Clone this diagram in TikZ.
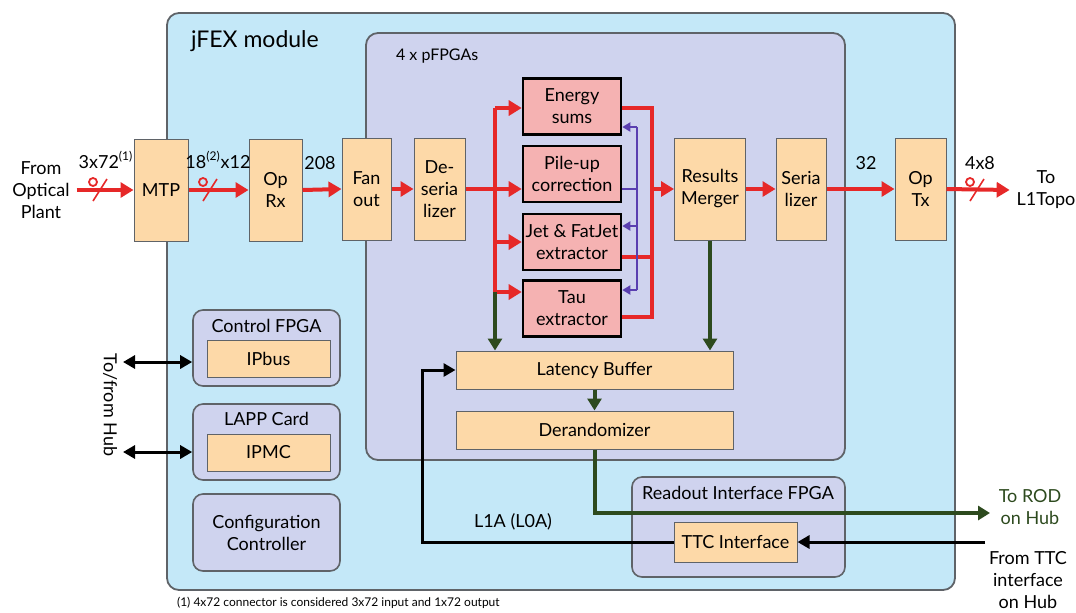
\documentclass[tikz,border=0pt]{standalone}
\usepackage{fontspec}
\setmainfont{Lato}
\usetikzlibrary{arrows.meta,positioning}
\definecolor{modblue}{HTML}{C4E8F8}
\definecolor{fpgalav}{HTML}{CFD3EE}
\definecolor{boxpeach}{HTML}{FDD9A8}
\definecolor{algopink}{HTML}{F5B2B2}
\definecolor{linkred}{HTML}{E62828}
\definecolor{rodgreen}{HTML}{2D4A1E}
\definecolor{fbpurple}{HTML}{5A3FB0}
\definecolor{edgegray}{HTML}{5F6368}

% optical fibre mark, slash centred at (#1,#2)
\newcommand{\fibre}[2]{%
  \draw[linkred, line width=0.9pt] (#1-7,#2-8) circle (2pt);
  \draw[linkred, line width=0.8pt] (#1-7,#2+11) -- (#1+7,#2-11);}

\begin{document}
\begin{tikzpicture}[
    x=0.5pt, y=-0.5pt,
    every node/.style={font=\fontsize{9}{11}\selectfont},
    blk/.style={fill=boxpeach, draw=edgegray, line width=0.5pt,
                inner sep=1pt, align=center},
    tallblk/.style={blk, minimum height=51pt},
    algo/.style={fill=algopink, draw=black, line width=1.3pt,
                 inner sep=1pt, align=center, minimum width=49pt, minimum height=28pt},
    grp/.style={fill=fpgalav, draw=edgegray, line width=0.8pt,
                rounded corners=5pt, align=center},
    flow/.style={linkred, line width=2pt, -{Triangle[length=6.5pt,width=7.5pt]}},
    redline/.style={linkred, line width=1.6pt},
    fbline/.style={fbpurple, line width=1.2pt},
    fb/.style={fbline, -{Triangle[length=4pt,width=4.5pt]}},
    rod/.style={rodgreen, line width=2pt, -{Triangle[length=6pt,width=7pt]}},
    sig/.style={black, line width=1.5pt, -{Triangle[length=6pt,width=6.5pt]}},
]
\useasboundingbox (0,0) rectangle (1076,612);

% containers
\draw[fill=modblue, draw=edgegray, line width=0.9pt, rounded corners=6pt]
  (167,13) rectangle (955,590);
\node[font=\fontsize{11.5}{13}\selectfont, anchor=base west] (modlbl) at (184,47) {jFEX module};
\draw[fill=fpgalav, draw=edgegray, line width=0.9pt, rounded corners=6pt]
  (366,33) rectangle (845,460);
\node[font=\fontsize{8}{10}\selectfont, anchor=base west] (fpgalbl) at (389,60) {4 x pFPGAs};

% left column: control, LAPP, configuration
\node[grp, minimum width=73.5pt, minimum height=38pt] (ctrlfpga) at (266.5,348) {};
\node (ctrllbl) at (266.5,326) {Control FPGA};
\node[blk, minimum width=61.5pt, minimum height=18.5pt] (ipbus) at (268.5,358.5) {IPbus};
\node[grp, minimum width=73.5pt, minimum height=38pt] (lapp) at (266.5,442) {};
\node (lapplbl) at (266.5,419) {LAPP Card};
\node[blk, minimum width=61.5pt, minimum height=18.5pt] (ipmc) at (268.5,452.5) {IPMC};
\node[grp, minimum width=73.5pt, minimum height=38.5pt] (config) at (266.5,532.5)
  {Configuration\\Controller};

% readout FPGA
\node[grp, minimum width=106.5pt, minimum height=50pt] (readout) at (738.5,527) {};
\node (readlbl) at (738,493) {Readout Interface FPGA};
\node[blk, minimum width=61.5pt, minimum height=20pt] (ttc) at (735.5,542) {TTC Interface};

% main chain
\node[align=center] (optplant) at (41,190) {From\\Optical\\Plant};
\node[tallblk, minimum width=27pt] (mtp) at (161,190) {MTP};
\node[tallblk, minimum width=26.5pt] (oprx) at (275.5,190) {Op\\Rx};
\node[tallblk, minimum width=24.5pt] (fanout) at (366.5,189) {Fan\\out};
\node[tallblk, minimum width=25.5pt] (deser) at (439.5,189) {De-\\seria\\lizer};
\node[algo] (esum) at (572,106.5) {Energy\\sums};
\node[algo] (pileup) at (572,174) {Pile-up\\correction};
\node[algo] (jet) at (572,242) {Jet \& FatJet\\extractor};
\node[algo] (tau) at (572,308.5) {Tau\\extractor};
\node[tallblk, minimum width=35.5pt] (merger) at (710,189) {Results\\Merger};
\node[tallblk, minimum width=25pt] (ser) at (801,189) {Seria\\lizer};
\node[tallblk, minimum width=25.5pt] (optx) at (920.5,189) {Op\\Tx};
\node[align=center] (l1topo) at (1046,190) {To\\L1Topo};
\node[blk, minimum width=138.5pt, minimum height=19pt] (latbuf) at (594.5,370) {Latency Buffer};
\node[blk, minimum width=138.5pt, minimum height=19pt] (derand) at (594.5,430) {Derandomizer};

% link labels
\node (inlbl) at (106,160) {3x72\textsuperscript{(1)}};
\node (rxlbl) at (218,160) {18\textsuperscript{(2)}x12};
\node (fanlbl) at (320,163) {208};
\node (serlbl) at (866,163) {32};
\node (outlbl) at (980,163) {4x8};

% red data path
\draw[flow] (optplant.east) -- (mtp.west);
\fibre{100}{190}
\draw[flow] (mtp.east) -- (oprx.west);
\fibre{210}{190}
\draw[flow] (oprx.east) -- (fanout.west);
\draw[flow] (fanout.east) -- (deser.west);
\coordinate (bustop) at (495,108);
\coordinate (busjet) at (495,242);
\coordinate (bustau) at (495,292);
\draw[redline] (bustop) -- (bustau);
\draw[flow] (deser.east) -- (deser.east -| pileup.west);
\draw[flow] (bustop) -- (bustop -| esum.west);
\draw[flow] (busjet) -- (jet.west);
\draw[flow] (bustau) -- (bustau -| tau.west);
\coordinate (mergeN) at (652,108);
\coordinate (mergeJ) at (652,257);
\coordinate (mergeS) at (652,317);
\draw[redline] (mergeN -| esum.east) -- (mergeN) -- (mergeS) -- (mergeS -| tau.east);
\draw[redline] (mergeJ -| jet.east) -- (mergeJ);
\draw[flow] (merger.west -| mergeN) -- (merger.west);
\draw[flow] (merger.east) -- (ser.west);
\draw[flow] (ser.east) -- (optx.west);
\draw[flow] (optx.east) -- (l1topo.west);
\fibre{977}{190}

% pile-up feedback
\coordinate (fbtop) at (637,127);
\coordinate (fbmid) at (637,189);
\coordinate (fbjet) at (637,226);
\coordinate (fbbot) at (637,290);
\draw[fbline] (fbmid -| pileup.east) -- (fbmid);
\draw[fbline] (fbtop) -- (fbbot);
\draw[fb] (fbtop) -- (fbtop -| esum.east);
\draw[fb] (fbjet) -- (fbjet -| jet.east);
\draw[fb] (fbbot) -- (fbbot -| tau.east);

% readout path
\draw[rod] (bustau) -- (bustau |- latbuf.north);
\draw[rod] (merger.south) -- (merger.south |- latbuf.north);
\draw[rod] (latbuf.south) -- (derand.north);
\node[align=center, text=rodgreen] (rodhub) at (1030,507) {To ROD\\on Hub};
\coordinate (rodend) at (990,513);
\draw[rod] (derand.south) |- (rodend);

% TTC / L1A
\node[align=center] (ttchub) at (1028,580) {From TTC\\interface\\on Hub};
\coordinate (ttcin) at (985,542);
\draw[sig] (ttcin) -- (ttc.east);
\coordinate (l1aleft) at (422,542);
\draw[sig] (ttc.west) -- (l1aleft) |- (latbuf.west);
\node (l1albl) at (513,522) {L1A (L0A)};

% hub control links
\node[rotate=-90] (hub) at (110,405) {To/from Hub};
\coordinate (hubA) at (123,362);
\coordinate (hubB) at (123,452);
\draw[sig, {Triangle[length=6pt,width=6.5pt]}-{Triangle[length=6pt,width=6.5pt]}]
  (hubA) -- (hubA -| ctrlfpga.west);
\draw[sig, {Triangle[length=6pt,width=6.5pt]}-{Triangle[length=6pt,width=6.5pt]}]
  (hubB) -- (hubB -| lapp.west);

% footnote
\node[font=\fontsize{6}{7}\selectfont, anchor=base west] (fnote) at (170,606)
  {(1) 4x72 connector is considered 3x72 input and 1x72 output};
\end{tikzpicture}
\end{document}
